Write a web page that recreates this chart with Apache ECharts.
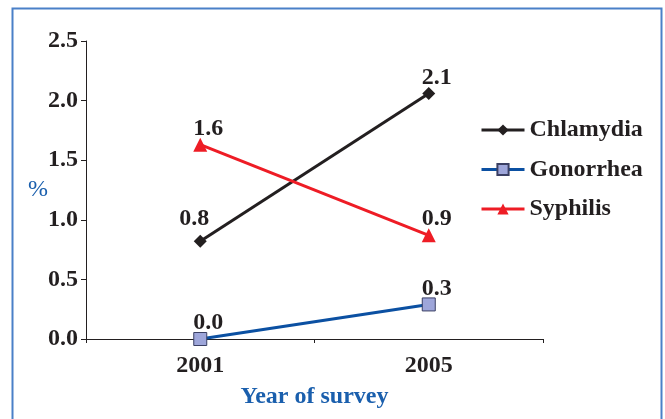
<!DOCTYPE html>
<html><head><meta charset="utf-8">
<script src="https://cdn.jsdelivr.net/npm/echarts@6/dist/echarts.min.js"></script>
<style>html,body{margin:0;padding:0;background:#fff}#c{width:665px;height:419px}</style>
</head><body><div id="c"></div>
<script>
const years = ['2001', '2005'];
const chlamydia = [0.82, 2.06];
const gonorrhea = [0.0, 0.29];
const syphilis = [1.63, 0.87];
const yTicks = [0, 0.5, 1.0, 1.5, 2.0, 2.5];

const FONT = "'Liberation Serif', 'DejaVu Serif', serif";
const chart = echarts.init(document.getElementById('c'));
const lbl = {show: true, position: 'top', distance: 2, offset: [8, 5], fontFamily: FONT, fontWeight: 'bold', fontSize: 24, color: '#231f20', formatter: p => p.value.toFixed(1)};
chart.setOption({
  animation: false,
  graphic: [{type: 'rect', shape: {x: 12.5, y: 8.5, width: 649, height: 430}, style: {fill: 'none', stroke: '#4a80c8', lineWidth: 2}}],
  grid: {left: 86, right: 122, top: 41, bottom: 80},
  legend: {
    orient: 'vertical', left: 475, top: 113, itemGap: 15.5, itemWidth: 43, itemHeight: 14,
    lineStyle: {width: 3},
    textStyle: {fontFamily: FONT, fontWeight: 'bold', fontSize: 24, color: '#231f20'},
    data: ['Chlamydia', 'Gonorrhea', 'Syphilis']
  },
  xAxis: {
    type: 'category', data: years, boundaryGap: true,
    name: 'Year of survey', nameLocation: 'middle', nameGap: 46,
    nameTextStyle: {fontFamily: FONT, fontWeight: 'bold', fontSize: 24, color: '#1a5fad'},
    axisLine: {lineStyle: {color: '#231f20', width: 1}},
    axisTick: {show: true, length: 4, lineStyle: {color: '#231f20'}},
    axisLabel: {fontFamily: FONT, fontWeight: 'bold', fontSize: 24, color: '#231f20', margin: 15}
  },
  yAxis: {
    type: 'value', min: 0, max: 2.5, interval: 0.5,
    name: '%', nameLocation: 'middle', nameGap: 38, nameRotate: 0, nameMoveOverlap: false,
    nameTextStyle: {fontFamily: FONT, fontSize: 24, color: '#1a5fad'},
    axisLine: {show: true, lineStyle: {color: '#231f20', width: 1}},
    axisTick: {show: true, length: 5, lineStyle: {color: '#231f20'}},
    splitLine: {show: false},
    axisLabel: {fontFamily: FONT, fontWeight: 'bold', fontSize: 24, color: '#231f20', margin: 8, formatter: v => v.toFixed(1)}
  },
  series: [
    {name: 'Chlamydia', type: 'line', symbol: 'diamond', symbolSize: 13,
     data: chlamydia.map((v, i) => i === 0 ? {value: v, label: {offset: [-6, -2]}} : v),
     lineStyle: {color: '#231f20', width: 3}, itemStyle: {color: '#231f20'}, label: lbl},
    {name: 'Gonorrhea', type: 'line', data: gonorrhea, symbol: 'rect', symbolSize: 13,
     lineStyle: {color: '#0b50a2', width: 3}, itemStyle: {color: '#9ea6da', borderColor: '#3a3f63', borderWidth: 1}, label: lbl},
    {name: 'Syphilis', type: 'line', data: syphilis, symbol: 'triangle', symbolSize: 14,
     lineStyle: {color: '#ee1c25', width: 3}, itemStyle: {color: '#ee1c25'}, label: lbl}
  ]
});
</script></body></html>
